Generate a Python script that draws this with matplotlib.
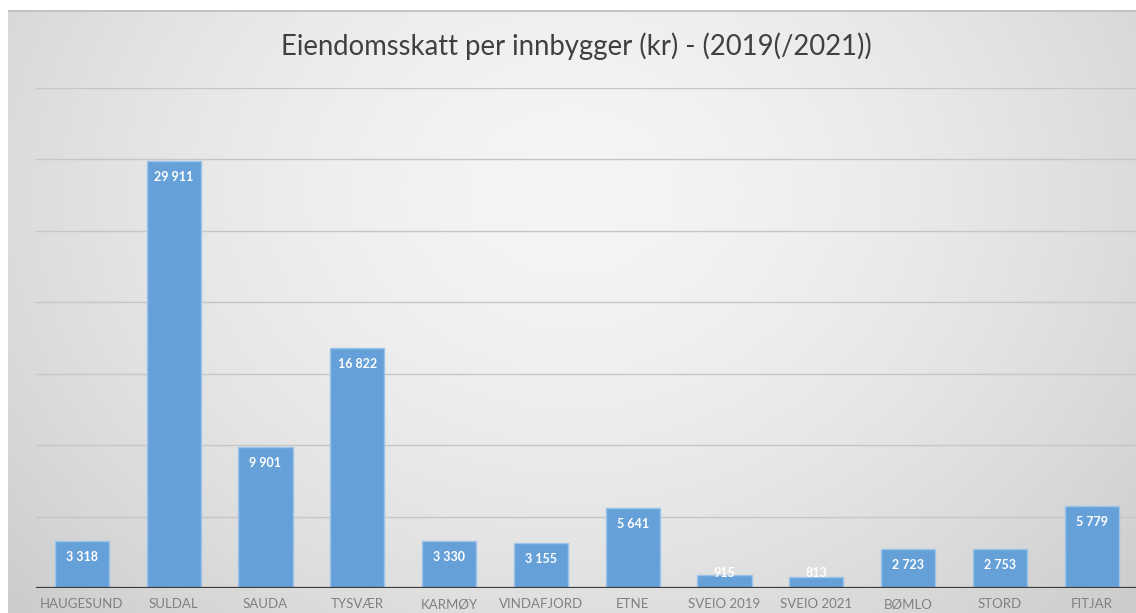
import numpy as np
import matplotlib.pyplot as plt

# Data
kommuner = ["HAUGESUND", "SULDAL", "SAUDA", "TYSVÆR", "KARMØY", "VINDAFJORD",
            "ETNE", "SVEIO 2019", "SVEIO 2021", "BØMLO", "STORD", "FITJAR"]
skatt = [3318, 29911, 9901, 16822, 3330, 3155, 5641, 915, 813, 2723, 2753, 5779]
grid_verdier = [5000, 10000, 15000, 20000, 25000, 30000, 35000]

W, H = 1136, 613
fig = plt.figure(figsize=(W / 100, H / 100), dpi=100)
fig.patch.set_facecolor("white")

# Background with radial gradient
bg = fig.add_axes([8 / W, 0, 1 - 8 / W, (H - 10) / H], zorder=0)
gx, gy = np.meshgrid(np.linspace(0, 1, 400), np.linspace(0, 1, 220))
r = np.sqrt(((gx - 0.5) / 0.62) ** 2 + ((gy - 0.3) / 0.95) ** 2)
shade = 0.96 - 0.14 * np.clip(r, 0, 1.2) ** 1.6
bg.imshow(np.dstack([shade] * 3), aspect="auto", extent=(0, 1, 1, 0))
bg.axhline(0.002, color="#bdbdbd", lw=1.2)
bg.set_xlim(0, 1)
bg.set_ylim(1, 0)
bg.axis("off")

# Main axes
ax = fig.add_axes([36 / W, (H - 588.3) / H, 1101.6 / W, 500.5 / H], zorder=1)
ax.patch.set_alpha(0)
x = np.arange(len(kommuner))
ax.bar(x, skatt, width=0.59, color="#66a0d8", edgecolor="#9cc4ea", linewidth=1, zorder=3)

for g in grid_verdier:
    ax.axhline(g, color="#c6c6c6", lw=1, zorder=1)
ax.axhline(0, color="#3c3c3c", lw=1.6, zorder=4)

for xi, v in zip(x, skatt):
    txt = f"{v:,}".replace(",", " ")
    ax.text(xi, max(v - 1118, 1048), txt, ha="center", va="center",
            color="white", fontsize=9, fontweight="bold", family="Lato", zorder=5)

ax.set_xlim(-0.5, 11.5)
ax.set_ylim(0, 35000)
ax.set_yticks([])
ax.set_xticks(x)
ax.set_xticklabels(kommuner, fontsize=9.5, color="#808080", family="Lato")
ax.tick_params(axis="x", length=0, pad=7)
for s in ax.spines.values():
    s.set_visible(False)

fig.text(576 / W, 1 - 46 / H, "Eiendomsskatt per innbygger (kr) - (2019(/2021))",
         ha="center", va="center", fontsize=19.8, color="#404040", family="Lato")

fig.savefig("out.png", dpi=100)
